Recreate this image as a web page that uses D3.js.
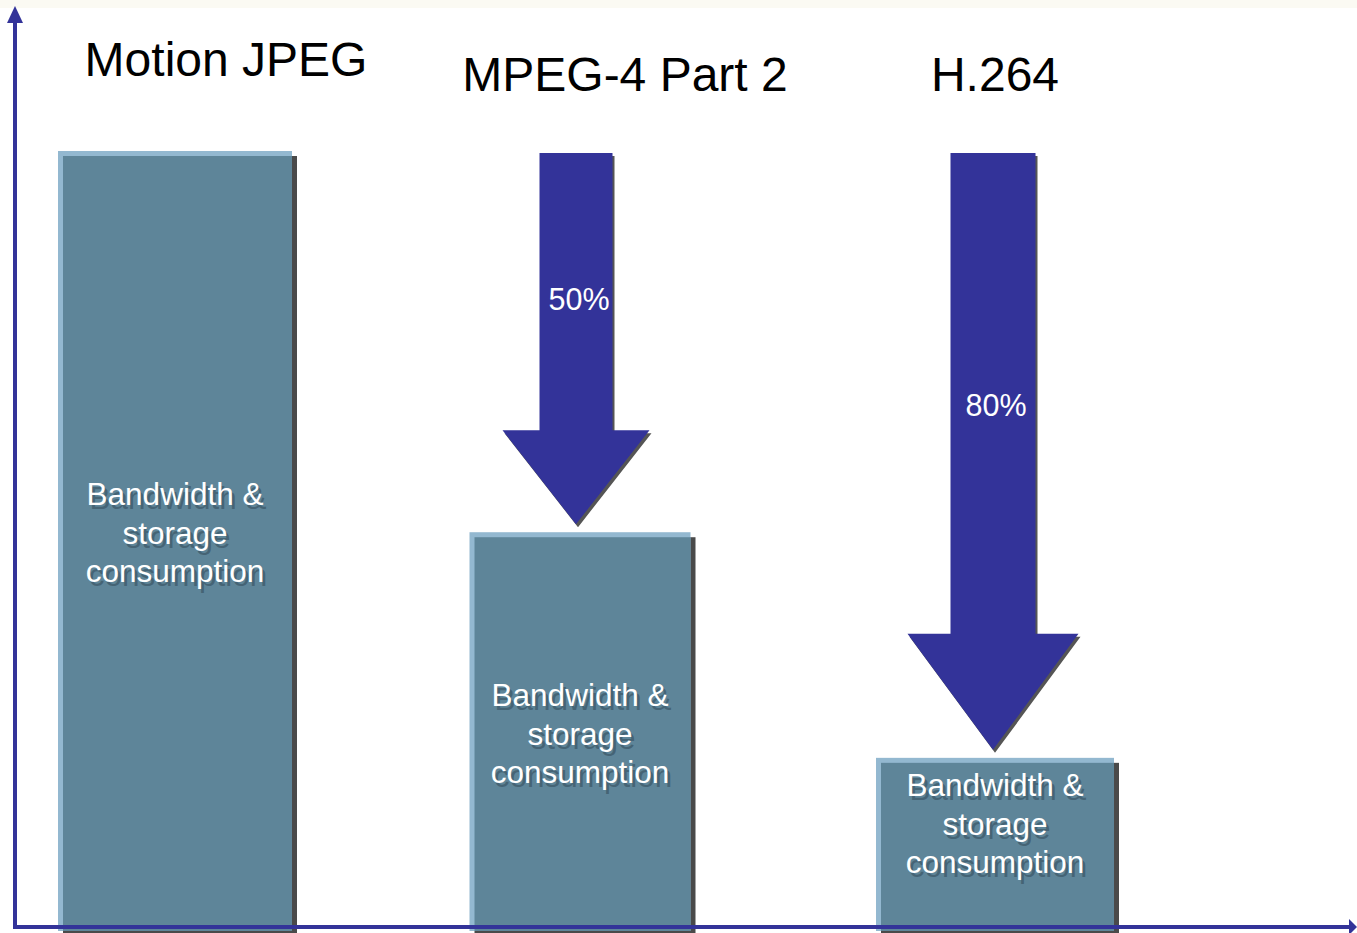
<!DOCTYPE html>
<meta charset="utf-8">
<style>
  body { margin: 0; background: #fff; }
  text { font-family: "Liberation Sans", Arial, sans-serif; }
</style>
<body>
  <script src="https://cdn.jsdelivr.net/npm/d3@7/dist/d3.min.js"></script>
  <script>

   // data (relative bandwidth, Motion JPEG = 100)
   const codecs = ["Motion JPEG", "MPEG-4 Part 2", "H.264"];
   const usage = [100, 51, 22];
   const savings = [null, "50%", "80%"];
   const barLines = ["Bandwidth &", "storage", "consumption"];

   const width = 1357, height = 933;
   const baseY = 929, topY = 151;

   const svg = d3.select("body").append("svg")
       .attr("width", width)
       .attr("height", height);

   // faint strip along the top of the slide
   svg.append("rect")
      .attr("width", width).attr("height", 8)
      .attr("fill", "#fbfaf3");

   const x = d3.scalePoint()
       .domain(codecs)
       .range([175, 995]);
   const y = d3.scaleLinear()
       .domain([0, 100])
       .range([baseY, topY]);

   // layout tweaks per column (the slide isn't perfectly regular)
   const barW = [234, 221, 238];
   const barShift = [0, -5, 0];
   const titleDx = [51, 40, 0], titleY = [76, 91, 91];
   const arrowX = [0, -9, -2];
   const cxOf = (d, i) => x(d) + barShift[i];

   // bars: dark shadow, light back face, main face
   const bars = svg.selectAll("g.bar")
       .data(codecs)
       .join("g")
       .attr("class", "bar");

   bars.append("rect")
       .attr("x", (d, i) => cxOf(d, i) - barW[i] / 2 + 5)
       .attr("y", (d, i) => y(usage[i]) + 5)
       .attr("width", (d, i) => barW[i])
       .attr("height", (d, i) => baseY + 4 - y(usage[i]) - 5)
       .attr("fill", "#4a4a4a");
   bars.append("rect")
       .attr("x", (d, i) => cxOf(d, i) - barW[i] / 2)
       .attr("y", (d, i) => y(usage[i]))
       .attr("width", (d, i) => barW[i])
       .attr("height", (d, i) => baseY + 2 - y(usage[i]))
       .attr("fill", "#93b8d0");
   bars.append("rect")
       .attr("x", (d, i) => cxOf(d, i) - barW[i] / 2 + 5)
       .attr("y", (d, i) => y(usage[i]) + 5)
       .attr("width", (d, i) => barW[i] - 5)
       .attr("height", (d, i) => baseY + 2 - y(usage[i]) - 5)
       .attr("fill", "#5e8599");

   // bar captions, white with a soft darker shadow
   const labelY = [505, 706, 796];
   [{dx: 3, dy: 4, fill: "#3b5566", op: 0.7}, {dx: 0, dy: 0, fill: "#fff", op: 1}].forEach(s => {
     bars.each(function(d, i) {
       const t = d3.select(this).append("text")
           .attr("text-anchor", "middle")
           .attr("font-size", 31.5)
           .attr("fill", s.fill)
           .attr("fill-opacity", s.op);
       barLines.forEach((ln, k) => {
         t.append("tspan")
          .attr("x", cxOf(d, i) + s.dx)
          .attr("y", labelY[i] + k * 38.5 + s.dy)
          .text(ln);
       });
     });
   });

   // codec titles
   svg.selectAll("text.title")
      .data(codecs)
      .join("text")
      .attr("class", "title")
      .attr("x", (d, i) => x(d) + titleDx[i])
      .attr("y", (d, i) => titleY[i])
      .attr("text-anchor", "middle")
      .attr("font-size", 48)
      .attr("fill", "#000")
      .text(d => d);

   // reduction arrows
   const arrowTop = y(100) + 2;
   codecs.forEach((c, i) => {
     if (!savings[i]) return;
     const cx = x(c) + arrowX[i];
     const tip = y(usage[i]) - 8;
     const headH = i === 1 ? 94 : 116, headW = i === 1 ? 147 : 171, shaftW = i === 1 ? 73 : 85;
     const hb = tip - headH;
     const pts = [
       [cx - shaftW / 2, arrowTop], [cx + shaftW / 2, arrowTop],
       [cx + shaftW / 2, hb], [cx + headW / 2, hb],
       [cx, tip], [cx - headW / 2, hb], [cx - shaftW / 2, hb]
     ];
     svg.append("polygon")
        .attr("points", pts.map(p => [p[0] + 2, p[1] + 3]).join(" "))
        .attr("fill", "#555");
     svg.append("polygon")
        .attr("points", pts.join(" "))
        .attr("fill", "#333399");
     svg.append("text")
        .attr("x", cx + 3)
        .attr("y", arrowTop + (hb - arrowTop) * 0.525 + 11)
        .attr("text-anchor", "middle")
        .attr("font-size", 30.5)
        .attr("fill", "#fff")
        .text(savings[i]);
   });

   // axes
   svg.append("line")
      .attr("x1", 15).attr("x2", 15)
      .attr("y1", 929).attr("y2", 18)
      .attr("stroke", "#333399").attr("stroke-width", 4);
   svg.append("polygon")
      .attr("points", "15,6 7,23 23,23")
      .attr("fill", "#333399");
   svg.append("line")
      .attr("x1", 13).attr("x2", 1350)
      .attr("y1", 927).attr("y2", 927)
      .attr("stroke", "#333399").attr("stroke-width", 4);
   svg.append("polygon")
      .attr("points", "1357,927 1349,919 1349,935")
      .attr("fill", "#333399");

  </script>
</body>
